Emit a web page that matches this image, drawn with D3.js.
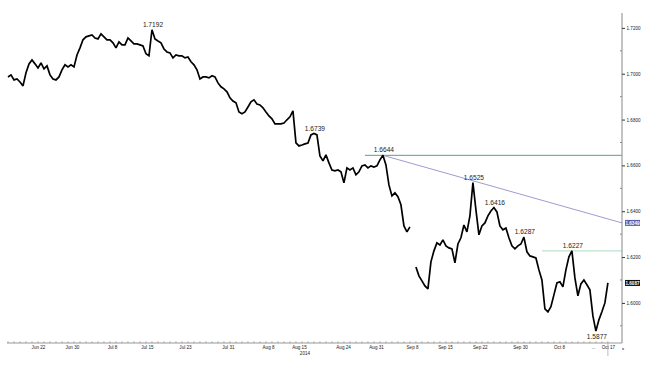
<!DOCTYPE html>
<html>
<head>
<meta charset="utf-8">
<script src="https://cdn.jsdelivr.net/npm/d3@7"></script>
<style>
  html, body { margin: 0; padding: 0; background: #fff; }
  svg { display: block; }
</style>
</head>
<body>
<svg id="chart" width="657" height="380"></svg>
<script>
// ---- data (GBP/USD-like series, one value per bar index; null = gap) ----
const prices = [
  1.6986,1.6995,1.6973,1.6977,1.6964,1.6947,1.7004,1.7043,1.7060,1.7043,
  1.7025,1.7047,1.7021,1.7034,1.6995,1.6977,1.6973,1.6986,1.7017,1.7039,
  1.7030,1.7039,1.7030,1.7082,1.7113,1.7148,1.7161,1.7165,1.7169,1.7156,
  1.7152,1.7174,1.7161,1.7148,1.7148,1.7135,1.7113,1.7139,1.7126,1.7126,
  1.7156,1.7143,1.7130,1.7130,1.7126,1.7121,1.7087,1.7078,1.7192,1.7152,
  1.7143,1.7135,1.7108,1.7095,1.7091,1.7069,1.7082,1.7078,1.7078,1.7069,
  1.7073,1.7052,1.7039,1.7017,1.6977,1.6986,1.6986,1.6982,1.6991,1.6986,
  1.6960,1.6943,1.6934,1.6921,1.6895,1.6881,1.6873,1.6833,1.6825,1.6833,
  1.6855,1.6877,1.6886,1.6868,1.6864,1.6851,1.6833,1.6816,1.6803,1.6781,
  1.6781,1.6781,1.6785,1.6799,1.6812,1.6838,1.6698,1.6685,1.6689,1.6694,
  1.6698,1.6733,1.6739,1.6733,1.6641,1.6620,1.6646,1.6611,1.6580,1.6576,
  1.6580,1.6572,1.6524,1.6589,1.6580,1.6589,1.6559,1.6572,1.6598,1.6602,
  1.6589,1.6598,1.6593,1.6598,1.6624,1.6644,1.6602,1.6515,1.6467,1.6480,
  1.6463,1.6428,1.6336,1.6310,1.6332,null,1.6157,1.6118,1.6096,1.6074,
  1.6061,1.6179,1.6227,1.6262,1.6253,1.6275,1.6249,1.6240,1.6236,1.6175,
  1.6257,1.6284,1.6340,1.6310,1.6380,1.6525,1.6406,1.6297,1.6336,1.6349,
  1.6380,1.6401,1.6416,1.6397,1.6336,1.6319,1.6327,1.6284,1.6249,1.6236,
  1.6249,1.6257,1.6287,1.6223,1.6205,1.6201,1.6196,1.6144,1.6100,1.5974,
  1.5961,1.5983,1.6035,1.6087,1.6092,1.6070,1.6144,1.6201,1.6227,1.6109,
  1.6031,1.6083,1.6100,1.6079,1.6057,1.5943,1.5877,1.5926,1.5961,1.6000,
  1.6087
];

// x-axis labels at bar indices
const xTickIdx    = [10, 21.3, 34.7, 46.3, 59, 73.3, 86.7, 97, 111.7, 122.7, 134.7, 145.7, 157.3, 170.7, 183.7, 195, 200];
const xTickLabels = ["Jun 22","Jun 30","Jul 8","Jul 15","Jul 23","Jul 31","Aug 8","Aug 15","Aug 24","Aug 31","Sep 8","Sep 15","Sep 22","Sep 30","Oct 8","...","Oct 17"];
const yearLabel = "2014";
const yearUnder = "Aug 15";

// y-axis ticks
const yTicks = [1.60, 1.62, 1.64, 1.66, 1.68, 1.70, 1.72];
const yMinorTicks = [1.59, 1.61, 1.63, 1.65, 1.67, 1.69, 1.71];

// annotated highs / lows: [bar index, value, position]
const annIdx   = [48, 102, 125, 155, 162, 172, 188, 196];
const annValue = [1.7192, 1.6739, 1.6644, 1.6525, 1.6416, 1.6287, 1.6227, 1.5877];
const annPos   = ["above","above","above","above","above","above","above","below"];

// horizontal levels: start index, value
const hLevelStart = [119, 178];
const hLevelValue = [1.6644, 1.6227];
const hLevelColor = ["#5f9f80", "#aadcc2"];

// trend line: from bar index/value to right edge value
const trendFromIdx = 125, trendFromValue = 1.6644, trendToValue = 1.6349;
const lastValue = 1.6087;

// ---- scales ----
const svg = d3.select("#chart");
const xDomainMax = 204.7;
const x = d3.scaleLinear().domain([0, xDomainMax]).range([8, 622]);
const y = d3.scaleLinear().domain([1.5825, 1.7265]).range([343, 13]);

const fontMain = "'Liberation Sans', Arial, sans-serif";

// ---- reference lines ----
hLevelValue.forEach((v, k) => {
  svg.append("line")
    .attr("x1", x(hLevelStart[k])).attr("x2", x(xDomainMax))
    .attr("y1", y(v)).attr("y2", y(v))
    .attr("stroke", hLevelColor[k]).attr("stroke-width", 1);
});
svg.append("line")
  .attr("x1", x(trendFromIdx)).attr("y1", y(trendFromValue))
  .attr("x2", x(xDomainMax)).attr("y2", y(trendToValue))
  .attr("stroke", "#9c9cd2").attr("stroke-width", 1);

// ---- price line ----
const line = d3.line()
  .defined(d => d != null)
  .x((d, i) => x(i))
  .y(d => y(d));
svg.append("path")
  .datum(prices)
  .attr("d", line)
  .attr("fill", "none")
  .attr("stroke", "#000")
  .attr("stroke-width", 1.7)
  .attr("stroke-linejoin", "miter")
  .attr("stroke-miterlimit", 2);

// ---- annotations ----
annIdx.forEach((idx, k) => {
  const v = annValue[k];
  svg.append("text")
    .attr("x", x(idx) + 1)
    .attr("y", annPos[k] === "above" ? y(v) - 3 : y(v) + 8)
    .attr("text-anchor", "middle")
    .attr("font-family", fontMain)
    .attr("font-size", 6.6)
    .attr("fill", "#222")
    .text(d3.format(".4f")(v));
});

// ---- y axis (right) ----
const yAxisG = svg.append("g").attr("transform", `translate(${x(xDomainMax)},0)`);
yAxisG.call(d3.axisRight(y).tickValues(yTicks).tickFormat(d3.format(".4f")).tickSize(3).tickPadding(1.5));
yAxisG.select(".domain").attr("stroke", "#888").attr("d", `M0,13V343`);
yAxisG.selectAll(".tick line").attr("stroke", "#333");
yAxisG.selectAll(".tick text").attr("font-family", fontMain).attr("font-size", 4.6).attr("fill", "#222");
yAxisG.selectAll(".minor").data(yMinorTicks).enter().append("line")
  .attr("x1", -2).attr("x2", 0).attr("y1", d => y(d)).attr("y2", d => y(d))
  .attr("stroke", "#888");

// value tags on right axis
const tags = [[trendToValue, "#5c5ea8"], [lastValue, "#111"]];
tags.forEach(([v, col]) => {
  const g = yAxisG.append("g").attr("transform", `translate(3,${y(v)})`);
  g.append("rect").attr("x", 0).attr("y", -3).attr("width", 15).attr("height", 6).attr("fill", col);
  g.append("text").attr("x", 7.5).attr("y", 1.7).attr("text-anchor", "middle")
    .attr("font-family", fontMain).attr("font-size", 4.6).attr("font-weight", "bold")
    .attr("fill", "#fff").text(d3.format(".4f")(v));
});

// ---- x axis ----
const xAxisG = svg.append("g").attr("transform", "translate(0,343)");
xAxisG.call(d3.axisBottom(x).tickValues(xTickIdx).tickFormat((d, i) => xTickLabels[i]).tickSize(0).tickPadding(2.5));
xAxisG.select(".domain").attr("stroke", "#999").attr("d", `M7,0H${x(xDomainMax)}`);
xAxisG.selectAll(".tick text").attr("font-family", fontMain).attr("font-size", 4.6).attr("fill", "#222");
xAxisG.selectAll(".minor").data(d3.range(0, 202, 2)).enter().append("line")
  .attr("x1", d => x(d)).attr("x2", d => x(d)).attr("y1", -1.5).attr("y2", 0)
  .attr("stroke", "#999");
const yrIdx = xTickIdx[xTickLabels.indexOf(yearUnder)];
xAxisG.append("text")
  .attr("x", x(yrIdx) + 6).attr("y", 11.5)
  .attr("text-anchor", "middle")
  .attr("font-family", fontMain).attr("font-size", 4.6).attr("fill", "#222")
  .text(yearLabel);

// current-bar marker and corner mark
xAxisG.append("line")
  .attr("x1", x(prices.length - 1)).attr("x2", x(prices.length - 1))
  .attr("y1", 0).attr("y2", 13).attr("stroke", "#aaa").attr("stroke-width", 0.8);
xAxisG.append("path")
  .attr("d", `M${x(xDomainMax) + 0.5},5 l2,1 l-2,1 z`)
  .attr("fill", "#333");
</script>
</body>
</html>
